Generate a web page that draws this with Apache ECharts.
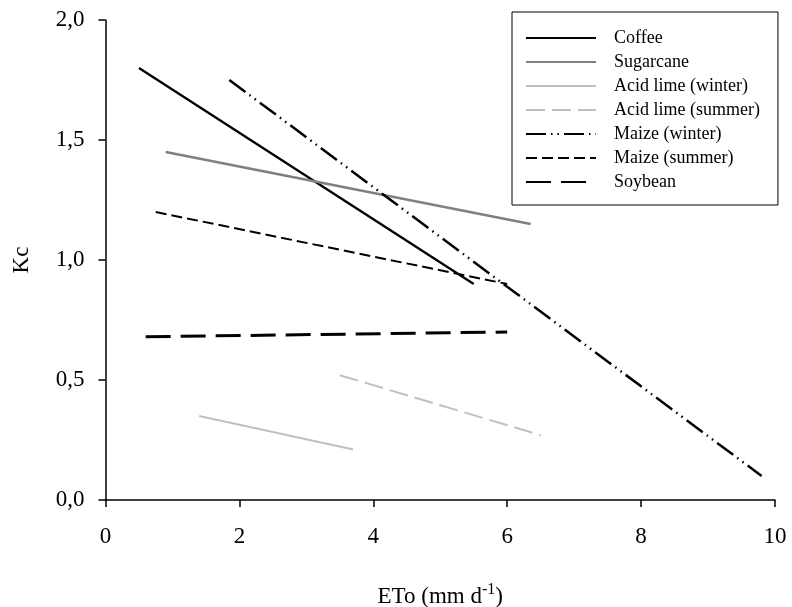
<!DOCTYPE html>
<html>
<head>
<meta charset="utf-8">
<script src="https://cdn.jsdelivr.net/npm/echarts@6/dist/echarts.min.js"></script>
<style>
html, body { margin: 0; padding: 0; background: #fff; }
#chart { width: 792px; height: 607px; }
</style>
</head>
<body>
<div id="chart"></div>
<script>
// crop names, as in the legend
var cropNames = ['Coffee', 'Sugarcane', 'Acid lime (winter)', 'Acid lime (summer)', 'Maize (winter)', 'Maize (summer)', 'Soybean'];

// line ends, ETo (mm/d) and Kc
var etoStart = [0.5, 0.9, 1.4, 3.5, 1.85, 0.75, 0.6];
var etoEnd   = [5.5, 6.35, 3.7, 6.5, 9.8, 6.0, 6.0];
var kcStart  = [1.8, 1.45, 0.35, 0.52, 1.75, 1.2, 0.68];
var kcEnd    = [0.9, 1.15, 0.21, 0.27, 0.1, 0.9, 0.7];

var xTicks = [0, 2, 4, 6, 8, 10];
var yTicks = [0, 0.5, 1.0, 1.5, 2.0];

/* style per line */
var lineStyles = [
    {color: '#000000', width: 2.3, type: 'solid'},
    {color: '#808080', width: 2.5, type: 'solid'},
    {color: '#c0c0c0', width: 2, type: 'solid'},
    {color: '#c0c0c0', width: 2, type: [19, 7]},
    {color: '#000000', width: 2.5, type: [20, 5, 1.5, 5, 1.5, 5]},
    {color: '#000000', width: 2, type: [11, 5]},
    {color: '#000000', width: 3, type: [25, 10]}
];

var series = [];
for (var i = 0; i < cropNames.length; i++) {
    series.push({
        name: cropNames[i],
        type: 'line',
        symbol: 'none',
        silent: true,
        itemStyle: {color: lineStyles[i].color},
        lineStyle: lineStyles[i],
        data: [[etoStart[i], kcStart[i]], [etoEnd[i], kcEnd[i]]]
    });
}

var font = 'Liberation Serif';
var chart = echarts.init(document.getElementById('chart'));
var option = {
    animation: false,
    textStyle: {fontFamily: font},
    grid: {left: 105.5, right: 17, top: 20, bottom: 107, outerBoundsMode: 'none'},
    legend: {
        orient: 'vertical',
        left: 512,
        top: 12,
        padding: [17, 18, 14, 13],
        borderColor: '#000',
        borderWidth: 1,
        itemWidth: 70,
        itemHeight: 18,
        itemGap: 6,
        selectedMode: false,
        itemStyle: {opacity: 0},
        data: cropNames,
        textStyle: {fontFamily: font, fontSize: 18, color: '#000', lineHeight: 18, padding: [0, 0, 0, 13]}
    },
    xAxis: {
        type: 'value',
        min: xTicks[0],
        max: xTicks[xTicks.length - 1],
        interval: 2,
        splitLine: {show: false},
        axisLine: {lineStyle: {color: '#000', width: 1.5}},
        axisTick: {length: 7, lineStyle: {color: '#000', width: 1.5}},
        axisLabel: {color: '#000', fontSize: 23, fontFamily: font, margin: 25},
        name: 'ETo (mm d{sup|-1})',
        nameLocation: 'middle',
        nameGap: 82,
        nameTextStyle: {
            color: '#000', fontSize: 23, fontFamily: font,
            rich: {sup: {fontSize: 16, fontFamily: font, color: '#000', verticalAlign: 'bottom', padding: [0, 0, 14, 0]}}
        }
    },
    yAxis: {
        type: 'value',
        min: yTicks[0],
        max: yTicks[yTicks.length - 1],
        interval: 0.5,
        splitLine: {show: false},
        axisLine: {show: true, lineStyle: {color: '#000', width: 1.5}},
        axisTick: {show: true, length: 7, lineStyle: {color: '#000', width: 1.5}},
        axisLabel: {
            color: '#000', fontSize: 23, fontFamily: font, margin: 21,
            formatter: function (v) { return v.toFixed(1).replace('.', ','); }
        },
        name: 'Kc',
        nameLocation: 'middle',
        nameGap: 72,
        nameTextStyle: {color: '#000', fontSize: 23, fontFamily: font}
    },
    series: series
};
chart.setOption(option);
</script>
</body>
</html>
